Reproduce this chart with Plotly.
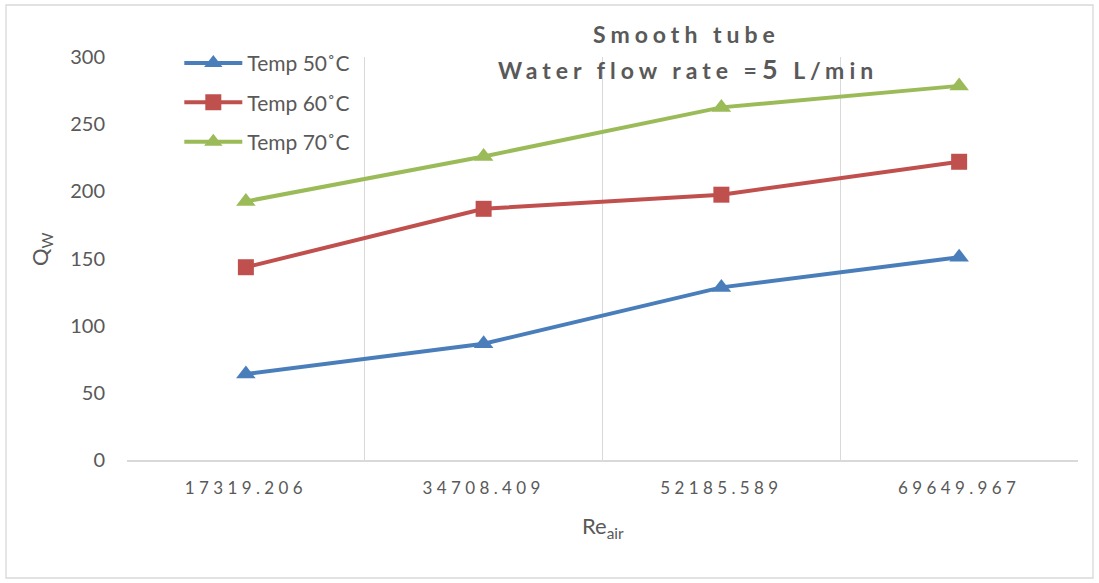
import plotly.graph_objects as go

categories = ["17319.206", "34708.409", "52185.589", "69649.967"]
temp50 = [64, 86.5, 128.5, 151]
temp60 = [143.5, 187, 197.5, 222]
temp70 = [192.5, 226, 262.5, 278.5]

series = [
    ("Temp 50˚C", temp50, "#4A7EBB", "triangle-up"),
    ("Temp 60˚C", temp60, "#C0504D", "square"),
    ("Temp 70˚C", temp70, "#9BBB59", "triangle-up"),
]

fig = go.Figure()
for i, (name, vals, col, sym) in enumerate(series):
    fig.add_trace(go.Scatter(
        x=categories, y=vals, name=name, mode="lines+markers",
        line=dict(color=col, width=4),
        marker=dict(symbol=sym, size=17 if sym != "square" else 16, color=col),
        legendgroup=f"g{i}",
    ))

txt = "#595959"
font = "Lato, 'Open Sans', sans-serif"
L, R, T, B = 127, 21, 57, 123
W, H = 1099, 583
pw, ph = W - L - R, H - T - B

ticktext = [f"<span style='letter-spacing:4.4px'>{c}</span>" for c in categories]

fig.update_layout(
    width=W, height=H,
    margin=dict(l=L, r=R, t=T, b=B),
    paper_bgcolor="white", plot_bgcolor="white",
    font=dict(family=font, color=txt),
    showlegend=True,
    legend=dict(x=0.055, y=1.035, xanchor="left", yanchor="top",
                font=dict(size=21, color=txt), bgcolor="rgba(0,0,0,0)",
                traceorder="grouped", tracegroupgap=9, itemwidth=58),
    xaxis=dict(type="category", range=[-0.5, 3.5], showgrid=True,
               gridcolor="#D9D9D9", gridwidth=1.3, tickson="boundaries",
               tickmode="array", tickvals=categories, ticktext=ticktext,
               ticks="", showline=True, linecolor="#D9D9D9", linewidth=1.5,
               tickfont=dict(size=17, color=txt), ticklabelstandoff=12,
               zeroline=False),
    yaxis=dict(range=[0, 300], dtick=50, showgrid=False, zeroline=False,
               showline=False, tickfont=dict(size=20, color=txt),
               ticks="", ticklabelstandoff=21),
)

# axis titles
fig.add_annotation(text="Q<sub>W</sub>", xref="paper", yref="paper",
                   x=(41 - L) / pw, y=(H - B - 249) / ph, showarrow=False,
                   xanchor="center", yanchor="middle", textangle=-90,
                   font=dict(size=22, color=txt, family=font))
fig.add_annotation(text="Re<sub>air</sub>", xref="paper", yref="paper",
                   x=(603 - L) / pw, y=(H - B - 527) / ph, showarrow=False,
                   xanchor="center", yanchor="middle",
                   font=dict(size=22, color=txt, family=font))
# title
fig.add_annotation(text="<b><span style='letter-spacing:5px'>Smooth tube</span></b>",
                   xref="paper", yref="paper",
                   x=(686 - L) / pw, y=(H - B - 34) / ph, showarrow=False,
                   xanchor="center", yanchor="middle",
                   font=dict(size=23, color=txt, family=font))
fig.add_annotation(text="<b><span style='letter-spacing:5px'>Water flow rate =<span style='font-size:27px'>5</span> L/min</span></b>",
                   xref="paper", yref="paper",
                   x=(688 - L) / pw, y=(H - B - 68) / ph, showarrow=False,
                   xanchor="center", yanchor="middle",
                   font=dict(size=23, color=txt, family=font))
# outer border
fig.add_shape(type="rect", xref="paper", yref="paper",
              x0=(6 - L) / pw, x1=(1093 - L) / pw,
              y0=(H - B - 578) / ph, y1=(H - B - 5) / ph,
              line=dict(color="#D9D9D9", width=1.3), layer="below")

fig.write_html("out.html")
